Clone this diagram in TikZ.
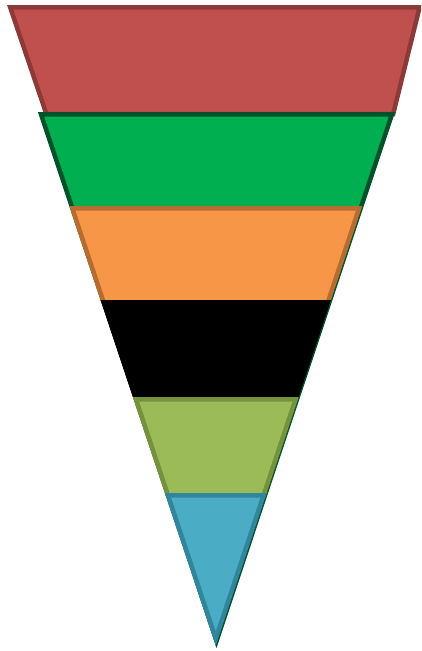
\documentclass[tikz,border=0pt]{standalone}
\definecolor{redfill}{HTML}{C0504D}
\definecolor{redline}{HTML}{8C3A38}
\definecolor{greenfill}{HTML}{00B050}
\definecolor{greenline}{HTML}{00522A}
\definecolor{orangefill}{HTML}{F79646}
\definecolor{orangeline}{HTML}{B66D31}
\definecolor{limefill}{HTML}{9BBB59}
\definecolor{limeline}{HTML}{76923C}
\definecolor{bluefill}{HTML}{4BACC6}
\definecolor{blueline}{HTML}{31859C}
\tikzset{band/.style={line width=4.5pt, line join=miter, miter limit=10}}
\begin{document}
\begin{tikzpicture}[x=1pt,y=-1pt]
\useasboundingbox (0,0) rectangle (421,651);
\clip (0,0) rectangle (421,651);
% red top band
\coordinate (r1) at (10.15,7.25);
\coordinate (r2) at (419.6,7.25);
\coordinate (r3) at (393.2,114);
\coordinate (r4) at (46.4,114);
\filldraw[band, fill=redfill, draw=redline] (r1) -- (r2) -- (r3) -- (r4) -- cycle;
% green triangle
\coordinate (g1) at (41.0,114.25);
\coordinate (g2) at (392.0,114.25);
\coordinate (g3) at (216.5,640.9);
\filldraw[band, fill=greenfill, draw=greenline] (g1) -- (g2) -- (g3) -- cycle;
% orange band
\coordinate (o1) at (72.3,208.25);
\coordinate (o2) at (359.2,208.25);
\coordinate (o3) at (327.6,303);
\coordinate (o4) at (103.8,303);
\filldraw[band, fill=orangefill, draw=orangeline] (o1) -- (o2) -- (o3) -- (o4) -- cycle;
% black band
\coordinate (k1) at (100.5,300);
\coordinate (k2) at (331,300);
\coordinate (k3) at (298.3,398);
\coordinate (k4) at (133.2,398);
\fill[black] (k1) -- (k2) -- (k3) -- (k4) -- cycle;
% light green band
\coordinate (l1) at (135.95,399.25);
\coordinate (l2) at (295.55,399.25);
\coordinate (l3) at (263.3,496);
\coordinate (l4) at (168.2,496);
\filldraw[band, fill=limefill, draw=limeline] (l1) -- (l2) -- (l3) -- (l4) -- cycle;
% blue tip
\coordinate (b1) at (167.95,495.25);
\coordinate (b2) at (263.55,495.25);
\coordinate (b3) at (215.75,638.6);
\filldraw[band, fill=bluefill, draw=blueline] (b1) -- (b2) -- (b3) -- cycle;
\end{tikzpicture}
\end{document}
